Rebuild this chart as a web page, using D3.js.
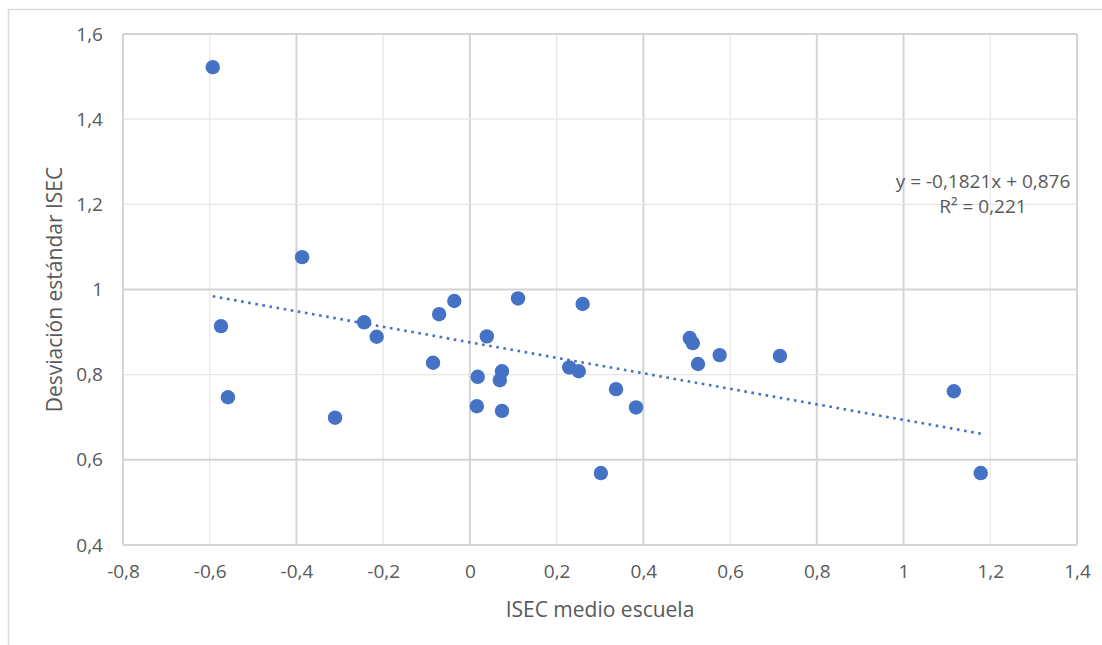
<!DOCTYPE html>
<html>
<head>
<meta charset="utf-8">
<script src="https://cdn.jsdelivr.net/npm/d3@7"></script>
<style>
  html, body { margin: 0; padding: 0; background: #fff; }
  svg { display: block; }
  text { font-family: "Open Sans", "Noto Sans", sans-serif; fill: #595959; }
</style>
</head>
<body>
<svg id="chart" width="1102" height="645"></svg>
<script>
// School mean ISEC vs. within-school ISEC standard deviation
const isecMedio = [-0.593, -0.387, -0.574, -0.558, -0.311, -0.244, -0.215, -0.085, -0.071, -0.036,
                   0.039, 0.018, 0.016, 0.074, 0.069, 0.074, 0.111, 0.229, 0.251, 0.260,
                   0.302, 0.337, 0.383, 0.507, 0.514, 0.526, 0.576, 0.715, 1.116, 1.178];
const desvEstandar = [1.522, 1.076, 0.914, 0.747, 0.699, 0.923, 0.889, 0.828, 0.942, 0.973,
                      0.890, 0.795, 0.726, 0.808, 0.787, 0.715, 0.979, 0.817, 0.808, 0.966,
                      0.569, 0.766, 0.723, 0.886, 0.874, 0.825, 0.846, 0.844, 0.761, 0.569];

const xTicks = [-0.8, -0.6, -0.4, -0.2, 0, 0.2, 0.4, 0.6, 0.8, 1, 1.2, 1.4];
const yTicks = [0.4, 0.6, 0.8, 1, 1.2, 1.4, 1.6];

// Linear trend (least squares) and its fit
const trendSlope = -0.1821;
const trendIntercept = 0.876;
const trendR2 = 0.221;

const xTitle = "ISEC medio escuela";
const yTitle = "Desviación estándar ISEC";

// Decimal comma formatting
const fmt = v => String(+v.toFixed(4)).replace(".", ",");

const svg = d3.select("#chart");
const x = d3.scaleLinear().domain([-0.8, 1.4]).range([123, 1077]);
const y = d3.scaleLinear().domain([0.4, 1.6]).range([545, 34]);

// Outer chart frame
svg.append("rect")
  .attr("x", 8.5).attr("y", 9.5).attr("width", 1120).attr("height", 660)
  .attr("fill", "none").attr("stroke", "#d9d9d9").attr("stroke-width", 1.5);

// Gridlines (some render heavier than others)
const heavyX = new Set([-0.8, -0.4, 0, 0.4, 0.8, 1, 1.4]);
const heavyY = new Set([0.4, 0.6, 1, 1.6]);

const grid = svg.append("g");
grid.selectAll("line.vx").data(xTicks).join("line")
  .attr("class", "vx")
  .attr("x1", d => x(d)).attr("x2", d => x(d))
  .attr("y1", y(1.6)).attr("y2", y(0.4))
  .attr("stroke", d => heavyX.has(d) ? "#d4d4d4" : "#e6e6e6")
  .attr("stroke-width", d => heavyX.has(d) ? 2 : 1.2);
grid.selectAll("line.hy").data(yTicks).join("line")
  .attr("class", "hy")
  .attr("x1", x(-0.8)).attr("x2", x(1.4))
  .attr("y1", d => y(d)).attr("y2", d => y(d))
  .attr("stroke", d => heavyY.has(d) ? "#d4d4d4" : "#e6e6e6")
  .attr("stroke-width", d => heavyY.has(d) ? 2 : 1.2);

// Axes: labels only (lines come from the grid)
const xAxis = svg.append("g")
  .attr("transform", `translate(0,${y(0.4)})`)
  .call(d3.axisBottom(x).tickValues(xTicks).tickFormat(fmt).tickSize(0).tickPadding(20));
xAxis.select(".domain").remove();
xAxis.selectAll("text").attr("font-size", 19).style("font-family", "'Open Sans', sans-serif").attr("fill", "#595959");

const yAxis = svg.append("g")
  .attr("transform", `translate(${x(-0.8)},0)`)
  .call(d3.axisLeft(y).tickValues(yTicks).tickFormat(fmt).tickSize(0).tickPadding(20));
yAxis.select(".domain").remove();
yAxis.selectAll("text").attr("font-size", 19).style("font-family", "'Open Sans', sans-serif").attr("fill", "#595959");

// Axis titles
svg.append("text")
  .attr("x", (x(-0.8) + x(1.4)) / 2).attr("y", 617)
  .attr("text-anchor", "middle").attr("font-size", 21)
  .text(xTitle);
svg.append("text")
  .attr("transform", `translate(62,${(y(0.4) + y(1.6)) / 2}) rotate(-90)`)
  .attr("text-anchor", "middle").attr("font-size", 21)
  .text(yTitle);

// Points
const pts = isecMedio.map((v, i) => ({ x: v, y: desvEstandar[i] }));
svg.append("g").selectAll("circle").data(pts).join("circle")
  .attr("cx", d => x(d.x)).attr("cy", d => y(d.y))
  .attr("r", 7.2).attr("fill", "#4472C4");

// Dotted trend line over the data range
const [xMin, xMax] = d3.extent(isecMedio);
const trend = [xMin, xMax].map(v => ({ x: v, y: trendSlope * v + trendIntercept }));
svg.append("path")
  .datum(trend)
  .attr("d", d3.line().x(d => x(d.x)).y(d => y(d.y)))
  .attr("fill", "none").attr("stroke", "#4472C4")
  .attr("stroke-width", 2.6).attr("stroke-dasharray", "2.6 4.6");

// Trend equation label
const eq = svg.append("text").attr("text-anchor", "middle").attr("font-size", 19);
eq.append("tspan").attr("x", 983).attr("y", 188)
  .text(`y = ${fmt(trendSlope)}x + ${fmt(trendIntercept)}`);
eq.append("tspan").attr("x", 983).attr("y", 213)
  .text(`R² = ${fmt(trendR2)}`);
</script>
</body>
</html>
